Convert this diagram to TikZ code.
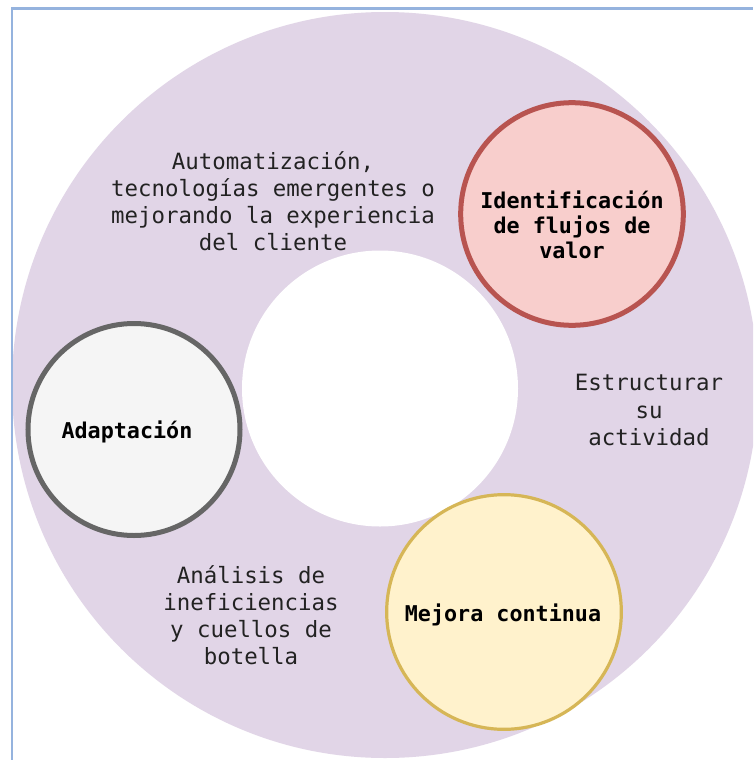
\documentclass[tikz,border=0pt]{standalone}
\usepackage{fontspec}
\newfontfamily\monofont{DejaVu Sans Mono}
\definecolor{ringfill}{HTML}{E1D5E7}
\definecolor{redfill}{HTML}{F8CECC}
\definecolor{redline}{HTML}{B85450}
\definecolor{grayfill}{HTML}{F5F5F5}
\definecolor{grayline}{HTML}{666666}
\definecolor{yelfill}{HTML}{FFF2CC}
\definecolor{yelline}{HTML}{D6B656}
\definecolor{framecol}{HTML}{95B3DE}
\definecolor{txt}{HTML}{222222}
\tikzset{
  stage/.style={circle, inner sep=0pt},
  plain/.style={align=center, text=txt, inner sep=0pt,
    font=\monofont\fontsize{16.8}{20.4}\selectfont},
  strong/.style={align=center, text=black, inner sep=0pt,
    font=\monofont\bfseries\fontsize{16.3}{19.4}\selectfont},
}
\begin{document}
\begin{tikzpicture}[x=0.75pt, y=-0.75pt]
  % canvas
  \fill[white] (0,0) rectangle (753,760);
  \useasboundingbox (0,0) rectangle (753,760);

  % ring: large disc with a white hole
  \begin{scope}
    \clip (0,0) rectangle (753,760);
    \fill[ringfill] (385,385) circle (373);
  \end{scope}
  \fill[white] (380,388.5) circle (138);

  % frame edges
  \draw[framecol, line width=2pt] (12,760) -- (12,8.5) -- (753,8.5);

  % stage circles
  \node[stage, fill=redfill, draw=redline, line width=3.75pt,
        minimum size=167pt] (idv) at (572,214) {};
  \node[stage, fill=grayfill, draw=grayline, line width=3.75pt,
        minimum size=159pt] (adp) at (134,429.5) {};
  \node[stage, fill=yelfill, draw=yelline, line width=2.4pt,
        minimum size=176pt] (mej) at (504,612) {};

  % stage titles
  \node[strong, font=\monofont\bfseries\fontsize{16.3}{18.8}\selectfont]
        (idvtxt) at (572,225) {Identificación\\de flujos de\\valor};
  \node[strong] (adptxt) at (127,432) {Adaptación};
  \node[strong] (mejtxt) at (503,615) {Mejora continua};

  % notes on the ring
  \node[plain] (auto) at (273,201)
        {Automatización,\\tecnologías emergentes o\\mejorando la experiencia\\del cliente};
  \node[plain] (estr) at (649,410) {Estructurar\\su\\actividad};
  \node[plain] (anal) at (251,615)
        {Análisis de\\ineficiencias\\y cuellos de\\botella};
\end{tikzpicture}
\end{document}
